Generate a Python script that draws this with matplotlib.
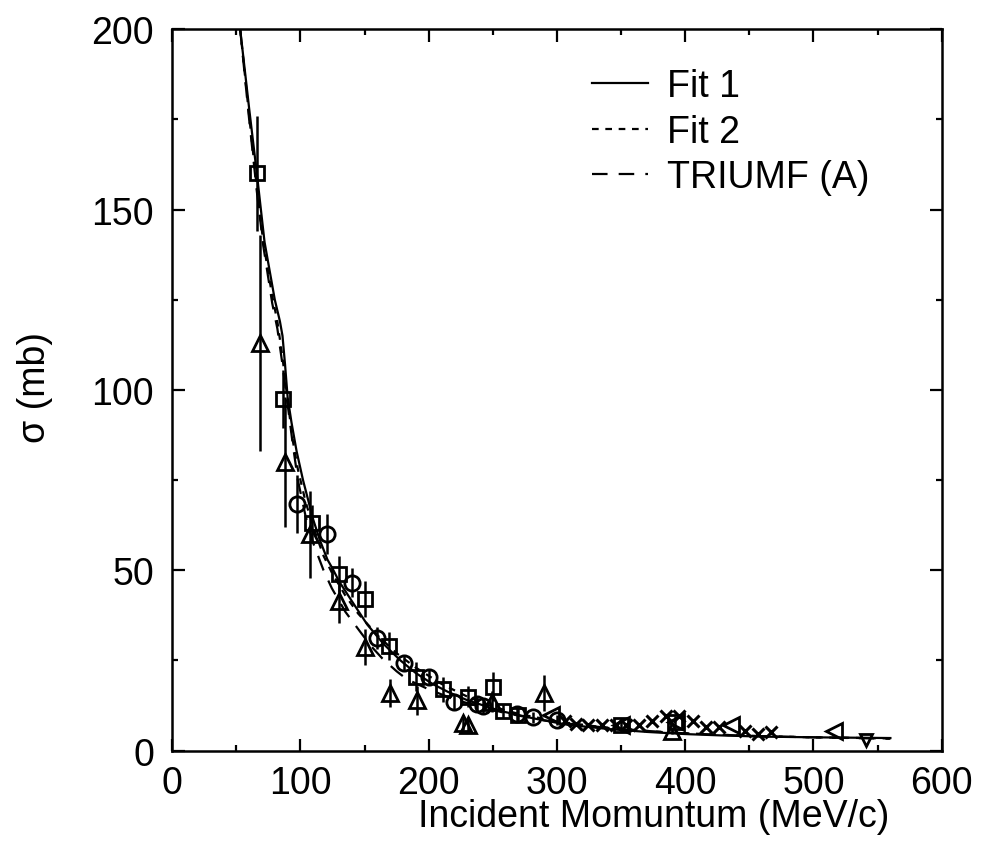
import matplotlib
matplotlib.use("Agg")
import matplotlib.pyplot as plt
from matplotlib.ticker import MultipleLocator

plt.rcParams['font.family'] = ['Liberation Sans', 'DejaVu Sans']

# ---- fit curves ----
fit1_x = [53, 60, 66, 72, 76, 80, 84, 86, 88, 90, 93, 97, 102, 106, 110, 115, 121, 125, 130,
          140, 152, 165, 178, 190, 203, 215, 230, 256, 281, 308, 340, 370, 400, 430, 460, 500, 530, 560]
fit1_y = [200, 178, 160, 141, 133, 125, 119, 115, 107, 98, 91, 83, 75, 69.5, 64, 58.5, 53, 50.5, 47,
          41.5, 35, 29.5, 25, 21.5, 18.5, 16.3, 14, 11, 9, 7.2, 6.0, 5.2, 4.6, 4.2, 3.9, 3.7, 3.6, 3.5]

fit2_x = [53, 60, 66, 71, 78, 82, 86, 90, 94, 98, 104, 110, 118, 125, 135, 145, 160, 175, 190,
          210, 230, 250, 270, 300, 340, 380, 420, 460, 500, 560]
fit2_y = [200, 176, 156, 141, 126, 119, 109, 97, 86, 78, 69, 62, 54, 49, 43, 38, 32, 27, 23,
          18.5, 15, 12.2, 10.2, 8.1, 6.3, 5.2, 4.5, 4.0, 3.7, 3.4]

tri_x = [53, 60, 66, 71, 78, 82, 86, 90, 94, 98, 104, 110, 118, 124.5, 135, 146.5, 155, 164,
         175, 183, 200, 220, 240, 260, 290, 320, 360, 400, 450, 500, 560]
tri_y = [200, 175, 155, 140, 124, 117, 107, 96, 85, 75, 65, 57.5, 50, 45, 38.5, 33, 29, 25.5,
         22, 19.8, 17, 14.2, 12.2, 10.4, 8.4, 7.0, 5.7, 4.8, 4.1, 3.7, 3.3]

# ---- data points ----
sq_x = [66, 86.5, 109, 130, 150, 169, 190, 211, 231, 250, 258, 270, 350, 392]
sq_y = [160, 97.5, 63, 49, 42, 29, 20.5, 17, 15, 17.7, 11, 10, 7, 8]
sq_e = [16, 8, 5, 5, 5, 4, 4, 3.5, 3, 4, 2, 2, 1, 1.5]

ci_x = [97, 121, 140, 160, 181, 200, 220, 238, 242, 269, 281, 300]
ci_y = [68.4, 60, 46.5, 31.3, 24.4, 20.5, 13.6, 13, 12.5, 10.2, 9.3, 8.5]
ci_e = [8, 5.5, 4, 3, 2, 2, 2, 2, 2, 2, 1.5, 1.5]

tu_x = [68.6, 88, 107.5, 130, 150, 170, 191, 227, 231, 249, 290, 390]
tu_y = [113, 80, 60, 41.5, 28.8, 16, 14, 7.8, 7.2, 13.6, 16, 5.5]
tu_e = [30, 18, 12, 6, 5, 4, 4, 2, 2, 3, 5, 1]

tl_x = [295, 350, 393, 436, 516]
tl_y = [10, 7, 8, 7, 5.5]

td_x = [541]
td_y = [3.0]

cr_x = [306, 315, 324, 335, 346, 354, 364, 374, 385, 395, 406, 416, 426, 447, 457, 467]
cr_y = [8.3, 7.5, 7, 7, 7, 7.2, 7.2, 8.3, 9.7, 9.7, 8.3, 6.6, 6.6, 5.5, 4.7, 5.3]

fig = plt.figure(figsize=(9.84, 8.62), dpi=100)
ax = fig.add_axes([0.175, 0.128, 0.782, 0.837])

lw = 1.6
l1, = ax.plot(fit1_x, fit1_y, color='black', lw=lw, ls='-')
l2, = ax.plot(fit2_x, fit2_y, color='black', lw=lw, ls=(0, (3, 3)))
l3, = ax.plot(tri_x, tri_y, color='black', lw=lw, ls=(0, (7, 5)))

mk = dict(color='black', mfc='none', mec='black', mew=2.0, ls='none', elinewidth=1.8, capsize=0)
ax.errorbar(sq_x, sq_y, yerr=sq_e, fmt='s', ms=9.5, **mk)
ax.errorbar(ci_x, ci_y, yerr=ci_e, fmt='o', ms=11, **mk)
ax.errorbar(tu_x, tu_y, yerr=tu_e, fmt='^', ms=11, **mk)
ax.plot(tl_x, tl_y, '<', ms=11, mfc='none', mec='black', mew=2.0, ls='none')
ax.plot(td_x, td_y, 'v', ms=9, mfc='none', mec='black', mew=2.0, ls='none')
ax.plot(cr_x, cr_y, 'x', ms=9, color='black', mew=2.2, ls='none')

ax.set_xlim(0, 600)
ax.set_ylim(0, 200)
ax.xaxis.set_major_locator(MultipleLocator(100))
ax.xaxis.set_minor_locator(MultipleLocator(50))
ax.yaxis.set_major_locator(MultipleLocator(50))
ax.yaxis.set_minor_locator(MultipleLocator(25))
ax.tick_params(which='both', direction='in', top=True, right=True, width=1.6)
ax.tick_params(which='major', length=9, labelsize=27)
ax.tick_params(axis='y', which='major', pad=13)
ax.tick_params(axis='x', which='major', pad=10)
ax.tick_params(which='minor', length=4.5)
for s in ax.spines.values():
    s.set_linewidth(1.8)

ax.set_xlabel('Incident Momuntum (MeV/c)', fontsize=27)
ax.xaxis.set_label_coords(0.626, -0.065)
ax.set_ylabel('σ (mb)', fontsize=27)
ax.yaxis.set_label_coords(-0.155, 0.505)

leg = ax.legend([l1, l2, l3], ['Fit 1', 'Fit 2', 'TRIUMF (A)'], loc='upper right',
                bbox_to_anchor=(0.95, 0.993), frameon=False, fontsize=27,
                handlelength=1.5, handletextpad=0.5, labelspacing=0.26)

fig.savefig('out.png', dpi=100)
